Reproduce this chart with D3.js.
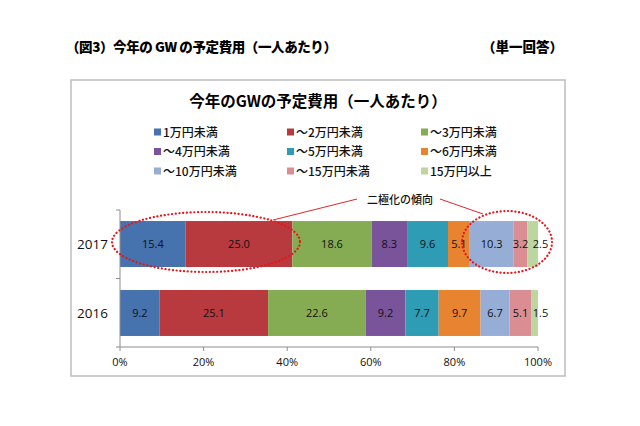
<!DOCTYPE html>
<html><head><meta charset="utf-8">
<script src="https://cdn.jsdelivr.net/npm/d3@7"></script>
<style>
html,body{margin:0;padding:0;background:#fff;}
svg{display:block;}
</style></head>
<body>
<svg id="c" width="640" height="426"></svg>
<script>
const years = ["2017", "2016"];
const categories = ["1万円未満","～2万円未満","～3万円未満","～4万円未満","～5万円未満","～6万円未満","～10万円未満","～15万円未満","15万円以上"];
const values2017 = [15.4, 25.0, 18.6, 8.3, 9.6, 5.1, 10.3, 3.2, 2.5];
const values2016 = [9.2, 25.1, 22.6, 9.2, 7.7, 9.7, 6.7, 5.1, 1.5];
const colors = ["#4672AE","#B83A3E","#86AC53","#7A549B","#2E9CB4","#E8832F","#96ADD6","#DA8E93","#BBD69E"];
const xTicks = [0, 0.2, 0.4, 0.6, 0.8, 1.0];
const headerLeft = "（図3）今年の GW の予定費用（一人あたり）";
const headerRight = "（単一回答）";
const chartTitle = "今年のGWの予定費用（一人あたり）";
const annotation = "二極化の傾向";

const svg = d3.select("#c");
const JP = "'Noto Sans CJK JP', 'Noto Sans', sans-serif";
const LAT = "'Open Sans', 'DejaVu Sans', sans-serif";

// header
svg.append("text").attr("x", 66).attr("y", 52).attr("font-family", JP).attr("font-weight", 900)
  .attr("font-size", 13.5).attr("letter-spacing", -0.4).attr("fill", "#000").text(headerLeft);
svg.append("text").attr("x", 563).attr("y", 52).attr("text-anchor", "end").attr("font-family", JP).attr("font-weight", 900)
  .attr("font-size", 13.5).attr("fill", "#000").text(headerRight);

// frame
svg.append("rect").attr("x", 71).attr("y", 80).attr("width", 494).attr("height", 296)
  .attr("fill", "#fff").attr("stroke", "#BDBDBD").attr("stroke-width", 1.5);

// title
svg.append("text").attr("x", 318).attr("y", 107).attr("text-anchor", "middle").attr("font-family", JP)
  .attr("font-weight", 700).attr("font-size", 15.5).attr("fill", "#000").text(chartTitle);

// legend
const legCols = [154, 287, 421];
const legRows = [132, 151.5, 171];
categories.forEach((c, i) => {
  const lx = legCols[i % 3], ly = legRows[Math.floor(i / 3)];
  svg.append("rect").attr("x", lx).attr("y", ly - 3.5).attr("width", 7).attr("height", 7).attr("fill", colors[i]);
  svg.append("text").attr("x", lx + 9).attr("y", ly + 4.5).attr("font-family", JP).attr("font-size", 12)
    .attr("font-weight", 500).attr("fill", "#111").text(c);
});

// scales
const x = d3.scaleLinear().domain([0, 1]).range([120, 538]);
const y = d3.scaleBand().domain(years).range([210, 347]).paddingInner(0.333).paddingOuter(0.16);

const rows = years.map((yr, k) => {
  const vals = k === 0 ? values2017 : values2016;
  const o = { year: yr };
  categories.forEach((c, i) => o[c] = vals[i]);
  return o;
});
const stack = d3.stack().keys(categories).offset(d3.stackOffsetExpand);
const series = stack(rows);

const g = svg.append("g");
series.forEach((s, i) => {
  g.selectAll(null).data(s).enter().append("rect")
    .attr("x", d => x(d[0])).attr("y", d => y(d.data.year))
    .attr("width", d => x(d[1]) - x(d[0])).attr("height", y.bandwidth())
    .attr("fill", colors[i]);
});
// label positions: segment centres, nudged right to avoid collisions
years.forEach((yr, k) => {
  let prev = -Infinity;
  series.forEach(s => {
    const d = s[k];
    let cx = (x(d[0]) + x(d[1])) / 2;
    if (cx < prev + 20) cx = prev + 20;
    prev = cx;
    g.append("text").attr("x", cx).attr("y", y(yr) + y.bandwidth() / 2 + 4)
      .attr("text-anchor", "middle").attr("font-family", LAT).attr("font-size", 11).attr("font-weight", 500)
      .attr("fill", "#111").text(d.data[s.key].toFixed(1));
  });
});

// axes
const axCol = "#8C8C8C";
const yTop = y.range()[0], yBot = y.range()[1];
svg.append("line").attr("x1", x(0)).attr("x2", x(0)).attr("y1", yTop).attr("y2", yBot).attr("stroke", axCol);
const bounds = [yTop, (yTop + yBot) / 2, yBot];
bounds.forEach(b => svg.append("line").attr("x1", x(0) - 4).attr("x2", x(0)).attr("y1", b).attr("y2", b).attr("stroke", axCol));
svg.append("line").attr("x1", x(0)).attr("x2", x(1)).attr("y1", yBot).attr("y2", yBot).attr("stroke", axCol);
xTicks.forEach(t => {
  svg.append("line").attr("x1", x(t)).attr("x2", x(t)).attr("y1", yBot).attr("y2", yBot + 4).attr("stroke", axCol);
  svg.append("text").attr("x", x(t)).attr("y", yBot + 19).attr("text-anchor", "middle").attr("font-family", LAT)
    .attr("font-size", 11).attr("fill", "#111").text(d3.format(".0%")(t));
});
years.forEach(yr => {
  svg.append("text").attr("x", 108).attr("y", y(yr) + y.bandwidth() / 2 + 5).attr("text-anchor", "end")
    .attr("font-family", LAT).attr("font-size", 13.5).attr("fill", "#111").text(yr);
});

// annotation
svg.append("text").attr("x", 400).attr("y", 204).attr("text-anchor", "middle").attr("font-family", JP)
  .attr("font-size", 11).attr("font-weight", 500).attr("fill", "#111").text(annotation);
svg.append("line").attr("x1", 357).attr("y1", 199).attr("x2", 273).attr("y2", 220).attr("stroke", "#E0262B").attr("stroke-width", 1);
svg.append("line").attr("x1", 440).attr("y1", 199).attr("x2", 483).attr("y2", 214).attr("stroke", "#E0262B").attr("stroke-width", 1);
svg.append("ellipse").attr("cx", 206).attr("cy", 242).attr("rx", 94).attr("ry", 30)
  .attr("fill", "none").attr("stroke", "#E8141B").attr("stroke-width", 2.2).attr("stroke-dasharray", "0.1,3.6").attr("stroke-linecap", "round");
svg.append("ellipse").attr("cx", 507).attr("cy", 242).attr("rx", 45).attr("ry", 31)
  .attr("fill", "none").attr("stroke", "#E8141B").attr("stroke-width", 2.2).attr("stroke-dasharray", "0.1,3.6").attr("stroke-linecap", "round");
</script>
</body></html>
